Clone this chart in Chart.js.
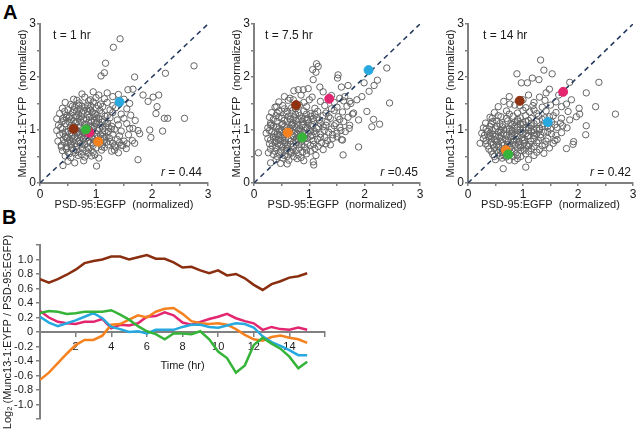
<!DOCTYPE html>
<html><head><meta charset="utf-8">
<script src="https://cdn.jsdelivr.net/npm/chart.js@4"></script>
<style>
body{margin:0;width:640px;height:432px;background:#fff;position:relative;overflow:hidden;font-family:"Liberation Sans",Arial,sans-serif}
canvas{position:absolute}
.lbl{position:absolute;font:bold 20px "Liberation Sans",Arial,sans-serif;color:#000;line-height:20px}
</style></head><body>
<div class="lbl" style="left:3px;top:2px">A</div>
<div class="lbl" style="left:2px;top:207px">B</div>
<canvas id="c1" width="214" height="212" style="left:0;top:0"></canvas>
<canvas id="c2" width="212" height="212" style="left:214px;top:0"></canvas>
<canvas id="c3" width="214" height="212" style="left:426px;top:0"></canvas>
<canvas id="c4" width="340" height="212" style="left:0;top:220px"></canvas>
<script>
// ---------- Panel A data (x = PSD-95:EGFP, y = Munc13-1:EYFP, normalized) ----------
const panelTitles = ["t = 1 hr", "t = 7.5 hr", "t = 14 hr"];
const rValues = ["= 0.44", "=0.45", "= 0.42"];

const cloud1 = [
[0.75,1.68],[0.95,1.72],[1.05,1.66],[1.2,1.7],[1.4,1.67],
[0.6,1.58],[0.8,1.62],[0.9,1.57],[1.0,1.61],[1.15,1.59],[1.3,1.63],[1.5,1.58],
[0.45,1.52],[0.55,1.48],[0.7,1.51],[0.85,1.47],[0.95,1.53],[1.08,1.49],[1.2,1.52],[1.3,1.46],[1.6,1.5],
[0.4,1.41],[0.5,1.38],[0.62,1.43],[0.72,1.39],[0.8,1.42],[0.9,1.37],[1.0,1.41],[1.12,1.44],[1.25,1.38],[1.35,1.42],[1.55,1.4],
[0.35,1.31],[0.48,1.28],[0.58,1.33],[0.66,1.27],[0.75,1.32],[0.85,1.29],[0.93,1.34],[1.02,1.28],[1.1,1.31],[1.2,1.27],[1.3,1.33],[1.45,1.3],[1.62,1.28],
[0.3,1.21],[0.42,1.18],[0.52,1.23],[0.6,1.17],[0.7,1.22],[0.78,1.19],[0.88,1.24],[0.97,1.18],[1.05,1.21],[1.15,1.17],[1.25,1.23],[1.38,1.19],[1.5,1.22],[1.7,1.18],
[0.33,1.09],[0.45,1.12],[0.55,1.08],[0.63,1.13],[0.72,1.07],[0.8,1.11],[0.9,1.08],[1.0,1.13],[1.08,1.09],[1.18,1.12],[1.28,1.07],[1.4,1.1],[1.55,1.12],
[0.3,0.99],[0.4,1.02],[0.5,0.97],[0.58,1.03],[0.68,0.98],[0.76,1.01],[0.86,0.97],[0.95,1.03],[1.03,0.99],[1.12,1.02],[1.22,0.97],[1.33,1.01],[1.45,0.98],[1.6,1.03],[1.75,0.99],
[0.35,0.91],[0.45,0.88],[0.53,0.93],[0.62,0.87],[0.7,0.92],[0.8,0.89],[0.9,0.93],[0.98,0.88],[1.08,0.91],[1.18,0.87],[1.3,0.92],[1.42,0.89],[1.58,0.91],
[0.32,0.79],[0.42,0.82],[0.5,0.77],[0.6,0.81],[0.68,0.78],[0.77,0.83],[0.87,0.79],[0.96,0.82],[1.05,0.77],[1.15,0.81],[1.25,0.78],[1.38,0.82],[1.5,0.79],[1.65,0.8],
[0.38,0.71],[0.47,0.68],[0.56,0.72],[0.65,0.69],[0.75,0.73],[0.85,0.68],[0.95,0.71],[1.1,0.69],[1.22,0.72],[1.35,0.68],[1.48,0.71],
[0.4,0.61],[0.5,0.58],[0.6,0.62],[0.7,0.59],[0.82,0.61],[0.95,0.58],[1.1,0.62],[1.28,0.6],[1.4,0.57],
[0.45,0.51],[0.55,0.48],[0.68,0.52],[0.8,0.49],[0.92,0.51],[1.05,0.47],
[0.5,0.41],[0.62,0.38],[0.78,0.42],
[0.64,1.25],[0.73,1.15],[0.83,1.05],[0.93,0.95],[1.03,0.85],[0.57,0.95],[0.67,0.85],[0.77,0.95],[0.87,1.15],[0.97,1.25],[0.62,1.05],[0.72,0.75],[0.82,0.85],[0.92,1.05],[1.02,1.15],[0.52,1.15],[0.47,0.85],[0.55,0.75],[1.12,0.95],[1.22,1.05],[0.85,1.35],[0.65,1.35],[0.75,1.45],[0.95,0.75],[1.15,0.85],
[0.44,1.35],[0.53,1.26],[0.61,1.38],[0.69,1.30],[0.78,1.36],[0.88,1.40],[0.98,1.31],[1.07,1.37],[1.16,1.26],
[0.39,1.15],[0.47,1.24],[0.56,1.19],[0.66,1.16],[0.74,1.25],[0.83,1.21],[0.92,1.17],[1.01,1.22],[1.11,1.15],[1.21,1.13],
[0.37,1.05],[0.46,0.96],[0.54,1.04],[0.64,0.99],[0.71,1.04],[0.79,0.95],[0.88,1.01],[0.97,1.07],[1.06,1.03],[1.16,0.98],[1.27,1.02],
[0.41,0.93],[0.49,0.86],[0.57,0.89],[0.66,0.94],[0.74,0.87],[0.84,0.93],[0.93,0.85],[1.01,0.92],[1.12,0.88],[1.24,0.85],
[0.44,0.76],[0.53,0.81],[0.62,0.74],[0.71,0.80],[0.80,0.73],[0.90,0.76],[0.99,0.79],[1.09,0.75],[1.19,0.77],[1.30,0.75],[1.42,0.76],[1.55,0.74],
[0.47,0.64],[0.56,0.67],[0.65,0.63],[0.76,0.66],[0.87,0.64],[1.00,0.66],[1.15,0.67],[1.33,0.70],
[0.52,0.55],[0.63,0.57],[0.74,0.54],[0.86,0.56],[0.98,0.53],
[0.58,1.45],[0.69,1.47],[0.91,1.45],[1.04,1.46],[0.66,1.56],[0.87,1.55],
[1.43,2.72],[1.31,2.56],[1.17,2.26],[1.09,2.02],[1.15,2.08],[1.69,2.0],[2.24,2.07],[2.75,2.21],[1.66,1.77],[1.57,1.76],[1.84,1.66],[2.02,1.62],[2.12,1.66],[1.93,1.54],[2.09,1.44],[2.07,1.31],[2.22,1.22],[2.28,1.22],[2.58,1.22],[2.19,0.98],[1.96,1.0],[1.98,0.86],[1.75,0.44],[1.01,0.32],[0.41,1.22],[0.38,0.68],[0.41,0.33],[1.66,1.03],[1.78,0.93],[1.69,0.75],[1.54,0.65],[1.33,0.62],[1.45,0.71]
];
const cloud2 = [
[0.72,1.74],[0.98,1.78],[1.25,1.72],
[0.55,1.63],[0.85,1.66],[1.05,1.62],[1.4,1.65],[1.55,1.6],
[0.45,1.53],[0.62,1.56],[0.9,1.52],[1.0,1.57],[1.2,1.54],[1.45,1.52],[1.62,1.55],[1.75,1.5],
[0.38,1.43],[0.52,1.46],[0.68,1.42],[0.82,1.47],[0.95,1.44],[1.1,1.41],[1.28,1.46],[1.5,1.43],[1.68,1.45],
[0.32,1.33],[0.45,1.36],[0.58,1.32],[0.7,1.37],[0.8,1.33],[0.9,1.36],[1.02,1.31],[1.15,1.35],[1.3,1.32],[1.45,1.37],[1.6,1.34],[1.78,1.3],
[0.28,1.24],[0.4,1.27],[0.5,1.22],[0.62,1.26],[0.72,1.23],[0.82,1.27],[0.92,1.22],[1.03,1.26],[1.13,1.23],[1.25,1.27],[1.38,1.22],[1.52,1.25],[1.7,1.24],
[0.3,1.13],[0.42,1.16],[0.52,1.12],[0.6,1.17],[0.7,1.14],[0.78,1.11],[0.88,1.16],[0.98,1.13],[1.08,1.17],[1.2,1.12],[1.32,1.15],[1.48,1.12],[1.62,1.16],
[0.25,1.04],[0.35,1.07],[0.45,1.02],[0.55,1.06],[0.65,1.03],[0.73,1.07],[0.83,1.02],[0.93,1.05],[1.03,1.08],[1.13,1.03],[1.25,1.06],[1.4,1.02],[1.55,1.05],[1.72,1.03],
[0.22,0.94],[0.32,0.97],[0.42,0.92],[0.5,0.96],[0.58,0.93],[0.68,0.97],[0.78,0.92],[0.88,0.96],[0.98,0.93],[1.08,0.97],[1.2,0.92],[1.35,0.96],[1.5,0.94],[1.65,0.97],
[0.25,0.84],[0.35,0.87],[0.44,0.82],[0.52,0.86],[0.62,0.83],[0.72,0.87],[0.8,0.82],[0.92,0.85],[1.02,0.88],[1.15,0.83],[1.28,0.86],[1.42,0.84],[1.58,0.82],
[0.28,0.74],[0.38,0.77],[0.47,0.72],[0.56,0.76],[0.66,0.73],[0.76,0.77],[0.86,0.72],[0.97,0.75],[1.08,0.73],[1.22,0.76],[1.38,0.72],
[0.3,0.64],[0.4,0.67],[0.5,0.62],[0.6,0.66],[0.7,0.63],[0.82,0.66],[0.95,0.62],[1.1,0.65],[1.25,0.63],
[0.35,0.54],[0.45,0.57],[0.55,0.52],[0.67,0.56],[0.8,0.53],[0.95,0.55],[1.12,0.52],
[0.4,0.44],[0.52,0.47],[0.63,0.43],[0.78,0.46],[0.9,0.42],
[0.48,0.37],[0.6,0.36],
[0.6,1.0],[0.7,0.9],[0.8,1.0],[0.9,1.1],[0.65,1.2],[0.75,0.8],[0.85,0.9],[0.55,0.8],[0.95,1.2],[1.05,0.9],[0.45,0.9],[0.6,0.7],[0.7,1.1],[0.5,1.0],[0.8,1.2],[0.4,0.8],[1.0,1.0],[0.75,1.3],[0.55,1.4],[0.65,0.6],
[0.35,1.2],[0.45,1.24],[0.55,1.18],[0.66,1.21],[0.76,1.18],[0.86,1.22],[0.97,1.19],[1.07,1.22],[1.18,1.19],
[0.32,1.1],[0.41,1.06],[0.5,1.1],[0.59,1.04],[0.68,1.09],[0.77,1.04],[0.87,1.09],[0.96,1.04],[1.06,1.1],[1.17,1.06],[1.3,1.09],[1.45,1.08],
[0.28,0.99],[0.37,0.93],[0.46,0.98],[0.55,0.91],[0.64,0.98],[0.73,0.93],[0.83,0.98],[0.92,0.91],[1.02,0.98],[1.12,0.93],[1.27,0.99],[1.42,0.91],[1.57,0.99],
[0.3,0.81],[0.39,0.86],[0.48,0.8],[0.57,0.84],[0.67,0.79],[0.77,0.85],[0.86,0.79],[0.96,0.84],[1.07,0.8],[1.2,0.86],[1.33,0.8],[1.5,0.87],
[0.33,0.7],[0.43,0.74],[0.52,0.68],[0.61,0.73],[0.71,0.69],[0.81,0.73],[0.91,0.68],[1.02,0.71],[1.16,0.69],[1.3,0.74],
[0.38,0.6],[0.48,0.59],[0.58,0.61],[0.68,0.58],[0.76,0.61],[0.88,0.58],[1.02,0.6],
[0.42,0.5],[0.6,0.5],[0.72,0.5],[0.85,0.48],
[0.42,1.32],[0.6,1.35],[0.75,1.4],[0.95,1.3],[1.1,1.3],[1.35,1.25],[1.55,1.2],[1.4,1.4],
[1.13,2.25],[1.16,2.2],[1.06,2.14],[1.12,2.09],[1.07,1.95],[1.52,2.04],[1.51,1.98],[1.19,1.81],[1.58,1.81],[1.7,1.84],[1.99,1.89],[2.4,2.17],[2.23,1.94],[2.17,1.84],[2.08,1.73],[2.45,1.51],[2.04,1.35],[2.16,1.2],[2.13,1.06],[2.27,1.11],[1.89,0.68],[1.61,0.53],[1.07,0.4],[1.08,0.34],[0.8,1.76],[0.89,1.76],[0.65,1.6],[0.71,1.57],[0.41,1.44],[0.3,1.09],[0.26,0.57],[0.3,0.38],[0.08,0.57],[1.86,1.57],[1.95,1.63],[1.64,1.63],[1.73,1.54],[1.8,1.32],[1.89,1.19],[1.73,1.09],[1.6,0.81]
];
const cloud3 = [
[0.75,1.63],[1.1,1.66],[1.3,1.62],
[0.65,1.54],[1.0,1.57],[1.2,1.52],[1.4,1.56],[1.6,1.53],
[0.55,1.44],[0.85,1.47],[1.05,1.42],[1.18,1.46],[1.35,1.43],[1.5,1.47],[1.7,1.44],
[0.48,1.33],[0.7,1.36],[0.9,1.32],[1.0,1.37],[1.12,1.34],[1.25,1.31],[1.42,1.36],[1.6,1.33],[1.82,1.35],
[0.4,1.24],[0.55,1.27],[0.7,1.22],[0.82,1.26],[0.95,1.23],[1.05,1.27],[1.15,1.22],[1.28,1.26],[1.4,1.23],[1.55,1.27],[1.7,1.22],
[0.32,1.13],[0.45,1.16],[0.58,1.12],[0.72,1.17],[0.85,1.14],[0.95,1.11],[1.05,1.16],[1.15,1.13],[1.25,1.17],[1.38,1.12],[1.52,1.15],[1.68,1.13],
[0.28,1.04],[0.4,1.07],[0.5,1.02],[0.62,1.06],[0.75,1.03],[0.85,1.07],[0.95,1.02],[1.05,1.05],[1.15,1.08],[1.25,1.03],[1.35,1.06],[1.5,1.02],[1.62,1.05],[1.8,1.04],
[0.25,0.94],[0.35,0.97],[0.45,0.92],[0.55,0.96],[0.65,0.93],[0.75,0.97],[0.85,0.92],[0.95,0.96],[1.05,0.93],[1.15,0.97],[1.25,0.92],[1.38,0.96],[1.52,0.93],[1.7,0.95],
[0.28,0.84],[0.38,0.87],[0.48,0.82],[0.58,0.86],[0.68,0.83],[0.78,0.87],[0.88,0.82],[0.98,0.85],[1.08,0.88],[1.2,0.83],[1.32,0.86],[1.45,0.84],[1.62,0.82],
[0.32,0.74],[0.42,0.77],[0.52,0.72],[0.62,0.76],[0.72,0.73],[0.82,0.77],[0.92,0.72],[1.02,0.75],[1.12,0.73],[1.25,0.76],[1.4,0.72],[1.55,0.75],
[0.38,0.64],[0.48,0.67],[0.58,0.62],[0.7,0.66],[0.8,0.63],[0.9,0.66],[1.02,0.62],[1.15,0.65],[1.3,0.63],[1.48,0.66],
[0.45,0.54],[0.55,0.57],[0.65,0.52],[0.78,0.56],[0.9,0.53],[1.05,0.55],[1.2,0.52],[1.38,0.56],
[0.5,0.44],[0.62,0.47],[0.75,0.43],[0.9,0.46],[1.1,0.44],
[0.6,0.9],[0.7,0.8],[0.8,0.9],[0.9,1.0],[1.0,0.8],[0.65,1.0],[0.75,0.7],[0.85,0.8],[0.95,0.7],[1.1,1.0],[1.0,1.1],[0.5,0.8],[0.55,0.7],[1.2,0.9],[0.9,1.2],[0.7,0.6],[1.3,1.0],[0.4,0.9],[1.1,0.7],[0.8,1.1],
[0.42,1.12],[0.52,1.17],[0.63,1.1],[0.78,1.12],[0.9,1.17],[1.0,1.14],[1.1,1.18],[1.2,1.12],
[0.33,1.02],[0.44,0.99],[0.53,1.07],[0.58,0.99],[0.7,1.01],[0.8,0.98],[0.9,1.05],[1.0,1.0],[1.1,1.04],[1.2,0.99],[1.3,1.03],[1.45,1.07],
[0.3,0.9],[0.4,0.94],[0.5,0.88],[0.6,0.95],[0.7,0.9],[0.8,0.94],[0.9,0.88],[1.0,0.93],[1.1,0.89],[1.2,0.95],[1.32,0.91],[1.45,0.97],[1.6,0.9],
[0.33,0.8],[0.43,0.84],[0.53,0.78],[0.63,0.82],[0.73,0.77],[0.83,0.83],[0.93,0.78],[1.03,0.82],[1.14,0.79],[1.28,0.8],[1.42,0.79],[1.58,0.8],
[0.36,0.7],[0.46,0.73],[0.56,0.68],[0.66,0.72],[0.76,0.67],[0.86,0.72],[0.96,0.67],[1.07,0.7],[1.2,0.69],[1.35,0.7],
[0.42,0.6],[0.52,0.62],[0.62,0.58],[0.72,0.61],[0.84,0.59],[0.96,0.61],[1.1,0.6],[1.25,0.58],
[0.48,0.5],[0.58,0.51],[0.7,0.49],[0.82,0.5],[0.96,0.5],
[0.6,1.25],[0.75,1.3],[1.2,1.38],[1.35,1.2],[1.48,1.25],[1.58,1.1],[1.72,1.08],
[1.32,2.32],[1.38,2.13],[1.29,1.95],[1.53,2.06],[0.89,2.06],[0.97,1.89],[1.08,1.89],[1.17,1.98],[1.85,1.9],[2.38,1.9],[2.15,1.7],[1.48,1.77],[1.42,1.7],[1.65,1.66],[2.32,1.44],[2.68,1.3],[2.03,1.3],[2.15,1.08],[2.14,0.91],[1.92,0.78],[1.79,0.65],[1.91,0.73],[1.05,0.3],[0.85,0.42],[0.64,0.27],[0.22,0.75],[0.44,1.22],[0.76,1.49],[0.94,1.46],[1.85,1.19],[1.97,1.25],[2.02,1.41],[1.79,1.49],[1.88,1.57]
];
// highlighted synapses: brown, green, pink, orange, blue
const hlColors = ["#8e3212", "#36b43a", "#e2266f", "#f5821f", "#27a8df"];
const hl1 = [[0.60,1.02],[0.82,1.01],[0.88,0.95],[1.04,0.78],[1.42,1.53]];
const hl2 = [[0.76,1.47],[0.87,0.86],[1.36,1.59],[0.61,0.95],[2.07,2.13]];
const hl3 = [[0.94,1.55],[0.73,0.54],[1.73,1.72],[0.69,0.62],[1.45,1.15]];

// ---------- Panel B data ----------
const hours = [0,0.5,1,1.5,2,2.5,3,3.5,4,4.5,5,5.5,6,6.5,7,7.5,8,8.5,9,9.5,10,10.5,11,11.5,12,12.5,13,13.5,14,14.5,15];
const brown  = [0.73,0.68,0.73,0.79,0.86,0.95,0.98,1.00,1.04,1.04,1.00,1.03,1.06,1.01,1.01,0.96,0.89,0.90,0.85,0.81,0.85,0.78,0.80,0.74,0.65,0.58,0.66,0.70,0.75,0.77,0.81];
const green  = [0.26,0.29,0.28,0.25,0.26,0.28,0.28,0.28,0.30,0.24,0.17,0.08,0.01,-0.03,-0.10,-0.02,-0.02,-0.03,0.01,-0.10,-0.27,-0.36,-0.56,-0.46,-0.18,-0.08,-0.16,-0.23,-0.34,-0.50,-0.41];
const orange = [-0.66,-0.56,-0.43,-0.30,-0.18,-0.11,-0.11,-0.05,0.10,0.11,0.17,0.23,0.20,0.28,0.32,0.33,0.25,0.15,0.12,0.11,0.12,0.10,0.04,-0.04,-0.10,-0.12,-0.07,-0.05,-0.08,-0.10,-0.15];
const pink   = [0.29,0.20,0.14,0.12,0.11,0.14,0.14,0.18,0.05,0.10,0.09,0.12,0.21,0.22,0.27,0.23,0.13,0.10,0.14,0.18,0.21,0.25,0.19,0.15,0.12,0.03,0.07,0.04,0.03,0.06,0.03];
const blue   = [0.21,0.13,0.08,0.12,0.16,0.21,0.26,0.19,0.07,0.04,0.00,0.01,-0.02,0.03,0.03,0.03,0.07,0.10,0.10,0.07,0.06,0.09,0.12,0.11,0.06,-0.06,-0.14,-0.19,-0.25,-0.32,-0.32];
const timeTicks = [2,4,6,8,10,12,14];

// ---------- drawing ----------
const FONT = '"Liberation Sans", Arial, sans-serif';
const TXT = '#1a1a1a', AX = '#808080';
const toXY = arr => arr.map(p => ({x:p[0], y:p[1]}));

const annot = {
  id: 'annot',
  afterDraw(chart, args, o) {
    const ctx = chart.ctx, a = chart.chartArea;
    ctx.save();
    ctx.fillStyle = TXT; ctx.textBaseline = 'middle'; ctx.textAlign = 'left';
    ctx.font = '12px ' + FONT;
    ctx.fillText(o.t, a.left + o.tx, 36);
    const w = ctx.measureText(' ' + o.r).width;
    ctx.font = 'italic 12px ' + FONT;
    const wr = ctx.measureText('r').width;
    const x0 = a.right - o.rx - w - wr;
    ctx.fillText('r', x0, o.ry);
    ctx.font = '12px ' + FONT;
    ctx.fillText(' ' + o.r, x0 + wr, o.ry);
    ctx.restore();
  }
};

function scatterPanel(id, cloud, hl, idx, padL, yW, padR, tx, rx) {
  const ds = [];
  hl.forEach((p, i) => ds.push({
    data: [{x:p[0], y:p[1]}], pointRadius: 4.5, pointBackgroundColor: hlColors[i],
    pointBorderColor: hlColors[i], pointBorderWidth: 1, order: 0
  }));
  ds.push({ data: [{x:0,y:0},{x:3,y:3}], showLine: true, borderColor: '#233a5e', borderWidth: 1.5,
    borderDash: [5,4], pointRadius: 0, order: 1 });
  ds.push({ data: toXY(cloud), pointRadius: 3.2, pointBorderColor: '#656565', pointBorderWidth: 1,
    pointBackgroundColor: 'rgba(0,0,0,0)', order: 2 });
  new Chart(document.getElementById(id), {
    type: 'scatter',
    data: { datasets: ds },
    plugins: [annot],
    options: {
      responsive: false, animation: false, devicePixelRatio: 1,
      layout: { padding: { left: padL, right: padR, top: 24, bottom: 0 } },
      plugins: { legend: {display:false}, tooltip: {enabled:false},
        annot: { t: panelTitles[idx], r: rValues[idx], tx: tx, rx: rx, ry: 173 } },
      scales: {
        x: { type: 'linear', min: 0, max: 3,
          ticks: { stepSize: 0.5, autoSkip: false, maxRotation: 0, padding: 1, color: TXT,
            font: {family: FONT, size: 12}, callback: v => Number.isInteger(v) ? String(v) : '' },
          grid: { drawOnChartArea: false, drawTicks: true, tickLength: 3, color: AX, lineWidth: 1.5 },
          border: { color: AX, width: 2 },
          title: { display: true, text: 'PSD-95:EGFP  (normalized)', color: TXT, padding: 0,
            font: {family: FONT, size: 11} },
          afterFit: s => { s.height = 29; } },
        y: { type: 'linear', min: 0, max: 3,
          ticks: { stepSize: 0.5, autoSkip: false, padding: 1, color: TXT,
            font: {family: FONT, size: 12}, callback: v => Number.isInteger(v) ? String(v) : '' },
          grid: { drawOnChartArea: false, drawTicks: true, tickLength: 3, color: AX, lineWidth: 1.5 },
          border: { color: AX, width: 2 },
          title: { display: true, text: 'Munc13-1:EYFP  (normalized)', color: TXT, padding: 0,
            font: {family: FONT, size: 11} },
          afterFit: s => { s.width = yW; } }
      }
    }
  });
}
scatterPanel('c1', cloud1, hl1, 0, 16, 24, 6, 13, 6);
scatterPanel('c2', cloud2, hl2, 1, 16, 24, 6, 11, 2);
scatterPanel('c3', cloud3, hl3, 2, 18, 24, 7, 15, 2);

const mk = (vals, color) => ({ data: hours.map((h, i) => ({x:h, y:vals[i]})), borderColor: color,
  borderWidth: 2.5, pointRadius: 0, tension: 0, fill: false });
new Chart(document.getElementById('c4'), {
  type: 'line',
  data: { datasets: [mk(green, hlColors[1]), mk(blue, hlColors[4]), mk(orange, hlColors[3]), mk(pink, hlColors[2]), mk(brown, '#8a2e10')] },
  options: {
    responsive: false, animation: false, devicePixelRatio: 1,
    layout: { padding: { left: 1, right: 15, top: 25, bottom: 13 } },
    plugins: { legend: {display:false}, tooltip: {enabled:false} },
    scales: {
      x: { type: 'linear', min: 0, max: 16, position: { y: 0 },
        afterBuildTicks: s => { s.ticks = [0].concat(timeTicks, [16]).map(v => ({value: v})); },
        ticks: { autoSkip: false, maxRotation: 0, padding: 4, color: TXT, font: {family: FONT, size: 11},
          callback: v => timeTicks.includes(v) ? String(v) : '' },
        grid: { drawOnChartArea: false, drawTicks: true, tickLength: 4, color: AX, lineWidth: 1.5 },
        border: { color: AX, width: 2 },
        title: { display: true, text: 'Time (hr)', color: TXT, padding: {top: 2, bottom: 0},
          font: {family: FONT, size: 11} } },
      y: { type: 'linear', min: -1.2, max: 1.2,
        ticks: { stepSize: 0.2, autoSkip: false, padding: 3, color: TXT, font: {family: FONT, size: 11},
          callback: v => { const r = Math.round(v * 10) / 10; if (Math.abs(r) > 1.05) return ''; return r === 0 ? '0' : r.toFixed(1); } },
        grid: { drawOnChartArea: false, drawTicks: true, tickLength: 4, color: AX, lineWidth: 1.5 },
        border: { color: AX, width: 2 },
        title: { display: true, text: 'Log\u2082 (Munc13-1:EYFP / PSD-95:EGFP)', color: TXT, padding: 0,
          font: {family: FONT, size: 11} },
        afterFit: s => { s.width = 39; } }
    }
  }
});
</script>
</body></html>
